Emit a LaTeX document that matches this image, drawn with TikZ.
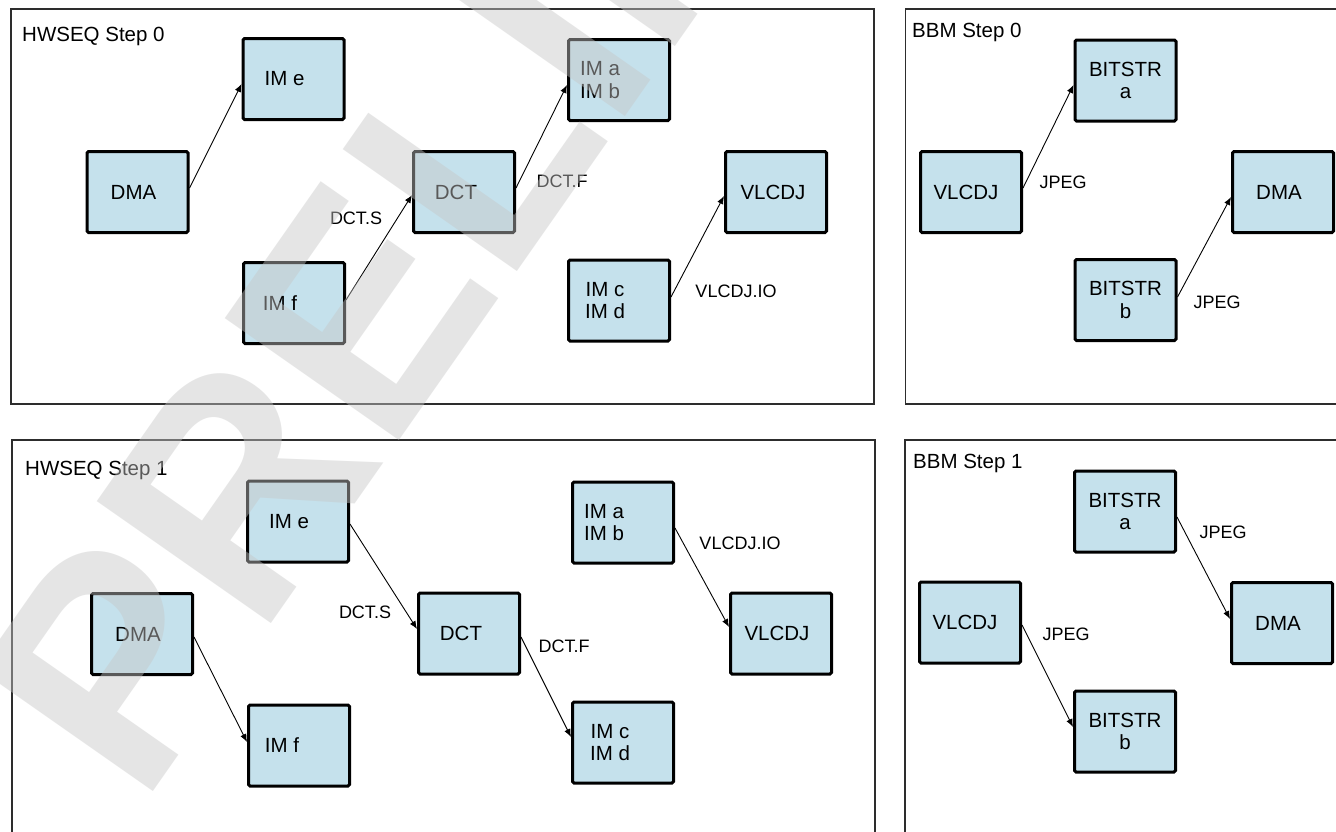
\documentclass[tikz,border=0pt]{standalone}
\usepackage{fontspec}
\setmainfont{Liberation Sans}
\usetikzlibrary{arrows.meta}
\definecolor{boxblue}{RGB}{197,225,236}
\definecolor{framegray}{RGB}{45,45,45}
\newcommand\shl[2]{\hspace*{-#1}#2\hspace*{#1}}
\begin{document}
\begin{tikzpicture}[x=1pt,y=-1pt,
  box/.style={draw=black, line width=3pt, fill=boxblue, rounded corners=1.5pt,
    minimum width=101pt, minimum height=81pt, inner sep=0pt,
    font=\fontsize{20.5}{22.5}\selectfont, align=center},
  frame/.style={draw=framegray, line width=1.6pt},
  title/.style={anchor=base west, font=\fontsize{20.5}{23}\selectfont, inner sep=0pt},
  lbl/.style={font=\fontsize{18}{20}\selectfont, inner sep=0pt},
  arr/.style={draw=black, line width=0.9pt, -{Latex[length=8pt,width=6.5pt]}},
  wmark/.style={anchor=base west, rotate=55, inner sep=0pt, text=black!22, opacity=0.45,
    font=\fontsize{309}{309}\bfseries\selectfont}
]
\useasboundingbox (0,0) rectangle (1336,831);
\clip (0,0) rectangle (1336,831);
\fill[white] (0,0) rectangle (1336,831);

% ---------- frames ----------
\draw[frame] (11,9) rectangle (874,404);
\draw[frame] (905.5,9) rectangle (1350,404);
\draw[frame] (12,440) rectangle (875,850);
\draw[frame] (905,440) rectangle (1350,850);

\node[title] (t0) at (22,41.5) {HWSEQ Step 0};
\node[title] (t1) at (912,37.3) {BBM Step 0};
\node[title] (t2) at (25,475) {HWSEQ Step 1};
\node[title] (t3) at (913,468) {BBM Step 1};

% ---------- HWSEQ Step 0 ----------
\node[box] (ime0)  at (293.5,79)  {\shl{9pt}{IM e}};
\node[box] (dma0)  at (137.5,192) {\shl{4pt}{DMA}};
\node[box] (imf0)  at (294,303)   {\shl{14pt}{IM f}};
\node[box] (dct0)  at (464,192)   {\shl{8pt}{DCT}};
\node[box] (imab0) at (619,80)    {\shl{19pt}{IM a}\\\shl{19pt}{IM b}};
\node[box] (vlcdj0) at (776,192)  {\shl{3pt}{VLCDJ}};
\node[box] (imcd0) at (619,300.5) {\shl{14pt}{IM c}\\\shl{14pt}{IM d}};

\draw[arr] ([yshift=4pt]dma0.east) -- ([yshift=-5pt]ime0.west);
\draw[arr] ([yshift=3pt]imf0.east) -- ([yshift=-3pt]dct0.west);
\draw[arr] ([yshift=4pt]dct0.east) -- ([yshift=-5pt]imab0.west);
\draw[arr] ([yshift=3.5pt]imcd0.east) -- ([yshift=-4pt]vlcdj0.west);

\node[lbl] (l0a) at (356,218) {DCT.S};
\node[lbl] (l0b) at (562,181) {DCT.F};
\node[lbl] (l0c) at (736,291) {VLCDJ.IO};

% ---------- BBM Step 0 ----------
\node[box] (bsa0) at (1125.5,80.5) {BITSTR\\a};
\node[box] (vlb0) at (971,192)     {\shl{5pt}{VLCDJ}};
\node[box] (dmb0) at (1283,192)    {\shl{4pt}{DMA}};
\node[box] (bsb0) at (1125.5,300)  {BITSTR\\b};

\draw[arr] ([yshift=4pt]vlb0.east) -- ([yshift=-4.5pt]bsa0.west);
\draw[arr] ([yshift=3pt]bsb0.east) -- ([yshift=-5pt]dmb0.west);

\node[lbl] (l1a) at (1063,182) {JPEG};
\node[lbl] (l1b) at (1217,302) {JPEG};

% ---------- HWSEQ Step 1 ----------
\node[box] (ime1)  at (298,521.5) {\shl{9pt}{IM e}};
\node[box] (dma1)  at (142,634)   {\shl{4pt}{DMA}};
\node[box] (imf1)  at (299,745.5) {\shl{17pt}{IM f}};
\node[box] (dct1)  at (469,633.5) {\shl{8pt}{DCT}};
\node[box] (imab1) at (623,522.5) {\shl{19pt}{IM a}\\\shl{19pt}{IM b}};
\node[box] (vlcdj1) at (781,633.5){\shl{4pt}{VLCDJ}};
\node[box] (imcd1) at (623,742.5) {\shl{13pt}{IM c}\\\shl{13pt}{IM d}};

\draw[arr] ([yshift=-2.5pt]ime1.east) -- ([yshift=4.5pt]dct1.west);
\draw[arr] ([yshift=-3pt]dma1.east) -- ([yshift=3.5pt]imf1.west);
\draw[arr] ([yshift=-3.5pt]dct1.east) -- ([yshift=5.5pt]imcd1.west);
\draw[arr] ([yshift=-5.5pt]imab1.east) -- ([yshift=6.5pt]vlcdj1.west);

\node[lbl] (l2a) at (365,612) {DCT.S};
\node[lbl] (l2b) at (564,646) {DCT.F};
\node[lbl] (l2c) at (740,543) {VLCDJ.IO};

% ---------- BBM Step 1 ----------
\node[box] (bsa1) at (1125,511.5) {BITSTR\\a};
\node[box] (vlb1) at (970,622.5)  {\shl{5pt}{VLCDJ}};
\node[box] (dmb1) at (1282,623)   {\shl{4pt}{DMA}};
\node[box] (bsb1) at (1125,731.5) {BITSTR\\b};

\draw[arr] ([yshift=-5.5pt]bsa1.east) -- ([yshift=4pt]dmb1.west);
\draw[arr] ([yshift=-2.5pt]vlb1.east) -- ([yshift=4.5pt]bsb1.west);

\node[lbl] (l3a) at (1223,532) {JPEG};
\node[lbl] (l3b) at (1066,634) {JPEG};

% ---------- watermark ----------
\node[wmark] (wm) at (141,809) {PRELIMINARY};
\end{tikzpicture}
\end{document}
